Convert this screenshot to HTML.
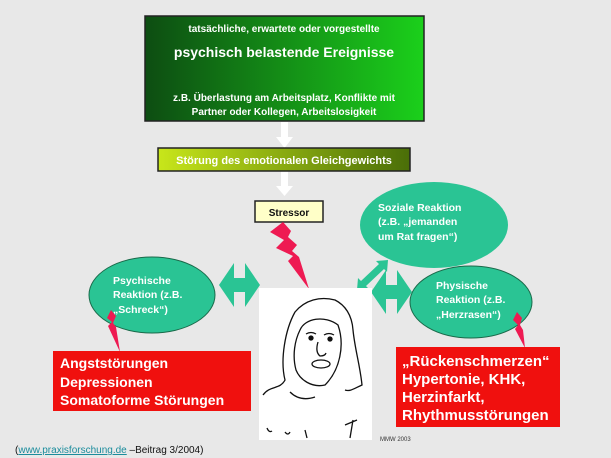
<!DOCTYPE html>
<html><head><meta charset="utf-8"><style>
body{margin:0;background:#e8e8e8;}
svg{display:block;font-family:"Liberation Sans",Arial,sans-serif;font-weight:bold;}
</style></head><body>
<svg width="611" height="458" viewBox="0 0 611 458" xmlns="http://www.w3.org/2000/svg">
<defs>
<linearGradient id="g1" x1="0" x2="1"><stop offset="0" stop-color="#0d4d12"/><stop offset="1" stop-color="#1bd01b"/></linearGradient>
<linearGradient id="g2" x1="0" x2="1"><stop offset="0" stop-color="#c8e61a"/><stop offset="1" stop-color="#4a6e08"/></linearGradient>
</defs>
<rect width="611" height="458" fill="#e8e8e8"/>
<rect x="145" y="16" width="279" height="105" fill="url(#g1)" stroke="#222" stroke-width="1.5"/>
<text x="284" y="32" fill="#fff" font-size="10" text-anchor="middle">tatsächliche, erwartete oder vorgestellte</text>
<text x="284" y="57" fill="#fff" font-size="14" text-anchor="middle">psychisch belastende Ereignisse</text>
<text x="284" y="101" fill="#fff" font-size="10" text-anchor="middle">z.B. Überlastung am Arbeitsplatz, Konflikte mit</text>
<text x="284" y="115" fill="#fff" font-size="10" text-anchor="middle">Partner oder Kollegen, Arbeitslosigkeit</text>
<rect x="281" y="122" width="7" height="17" fill="#fff"/><polygon points="276,137 293,137 284.5,148" fill="#fff"/>
<rect x="281" y="171" width="7" height="17" fill="#fff"/><polygon points="276,186 293,186 284.5,196" fill="#fff"/>
<rect x="158" y="148" width="252" height="23" fill="url(#g2)" stroke="#222" stroke-width="1.5"/>
<text x="284" y="164" fill="#fff" font-size="11" text-anchor="middle">Störung des emotionalen Gleichgewichts</text>
<rect x="255" y="201" width="68" height="21" fill="#ffffc8" stroke="#222" stroke-width="1.5"/>
<text x="289" y="216" fill="#111" font-size="10" text-anchor="middle">Stressor</text>
<polygon points="283,222 270,232 284,240 276,248 293,256 288,261 309,289 299,257 292,251 297,245 288,237 291,231" fill="#ee1a52"/>
<ellipse cx="434" cy="225" rx="74" ry="43" fill="#2ac494"/>
<text fill="#fff" font-size="10.5"><tspan x="378" y="211">Soziale Reaktion</tspan><tspan x="378" y="225">(z.B. „jemanden</tspan><tspan x="378" y="240">um Rat fragen“)</tspan></text>
<ellipse cx="152" cy="295" rx="63" ry="38" fill="#2ac494" stroke="#1a6a4a" stroke-width="1"/>
<text fill="#fff" font-size="10.5"><tspan x="113" y="284">Psychische</tspan><tspan x="113" y="298">Reaktion (z.B.</tspan><tspan x="113" y="313">„Schreck“)</tspan></text>
<ellipse cx="471" cy="302" rx="61" ry="36" fill="#2ac494" stroke="#1a6a4a" stroke-width="1"/>
<text fill="#fff" font-size="10.5"><tspan x="436" y="289">Physische</tspan><tspan x="436" y="303">Reaktion (z.B.</tspan><tspan x="436" y="318">„Herzrasen“)</tspan></text>
<g fill="#2ac494">
<polygon points="219,285 234,263 234,278 245,278 245,263 260,285 245,307 245,292 234,292 234,307"/>
<polygon points="371,292 386,270 386,285 397,285 397,270 412,292 397,314 397,299 386,299 386,314"/>
<polygon points="357,290 358,278 361,281 379,264 376,261 388,260 387,272 384,269 366,286 369,289"/>
</g>
<polygon points="111,310 107,318 112,322 108,326 120,352 116,327 113,323 116,316" fill="#ee1a52"/>
<polygon points="517,312 513,320 518,325 515,329 525,348 523,330 520,325 522,318" fill="#ee1a52"/>
<rect x="53" y="351" width="198" height="60" fill="#f0100e"/>
<text fill="#fff" font-size="14"><tspan x="60" y="368">Angststörungen</tspan><tspan x="60" y="387">Depressionen</tspan><tspan x="60" y="405">Somatoforme Störungen</tspan></text>
<rect x="396" y="347" width="164" height="80" fill="#f0100e"/>
<text fill="#fff" font-size="15"><tspan x="402" y="366">„Rückenschmerzen“</tspan><tspan x="402" y="384">Hypertonie, KHK,</tspan><tspan x="402" y="402">Herzinfarkt,</tspan><tspan x="402" y="420">Rhythmusstörungen</tspan></text>
<rect x="259" y="288" width="113" height="152" fill="#fff"/>
<g fill="none" stroke="#111" stroke-width="1.3">
<path d="M263,395 C270,385 280,390 285,380 C280,360 285,330 295,312 C305,300 320,296 335,300 C345,305 352,315 353,330 C355,350 360,365 362,385 C355,388 350,392 345,390"/>
<path d="M300,330 C305,318 325,315 338,325 C345,345 340,370 325,385 C312,388 300,380 296,370 C292,355 295,340 300,330"/>
<path d="M306,334 q5,-3 10,0 M324,335 q5,-3 10,0"/>
<circle cx="311" cy="338" r="2" fill="#111"/><circle cx="330" cy="339" r="2" fill="#111"/>
<path d="M318,342 q-3,10 2,14 q5,0 6,-3"/>
<ellipse cx="321" cy="364" rx="9" ry="4"/>
<path d="M290,392 q10,10 25,5 M353,420 l-3,18 M345,425 l12,-5"/>
<path d="M267,428 q2,5 5,3 M285,432 q3,4 5,0 M305,430 l2,8"/>
</g>
<text x="380" y="441" font-size="6" font-weight="normal" fill="#333">MMW 2003</text>
<text x="15" y="453" font-size="10" font-weight="normal" fill="#111">(<tspan fill="#1a8c9c" text-decoration="underline">www.praxisforschung.de</tspan> –Beitrag 3/2004)</text>
</svg>
</body></html>
